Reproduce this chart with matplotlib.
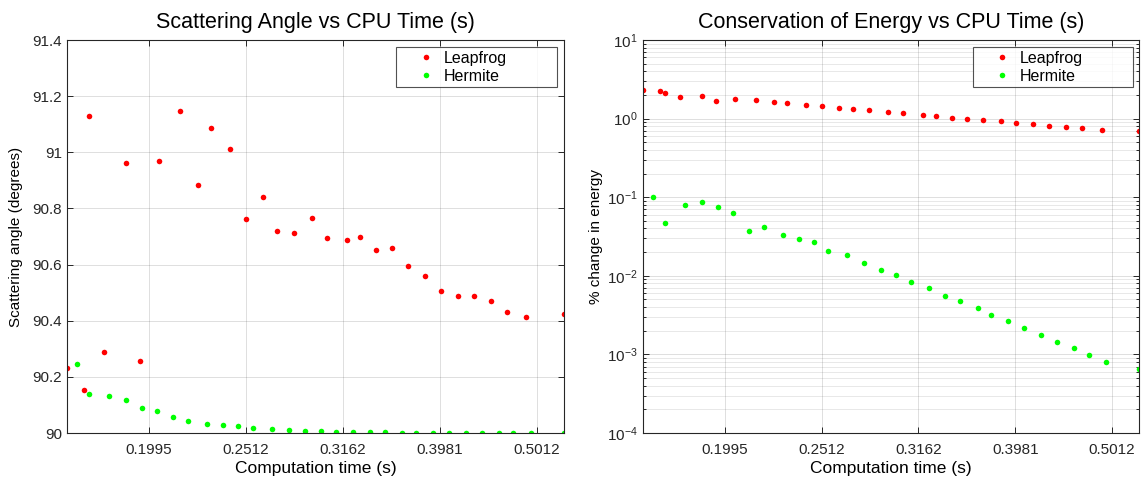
import numpy as np
import matplotlib
matplotlib.use("Agg")
from matplotlib import pyplot as plt
from matplotlib.ticker import FixedLocator, NullLocator, FuncFormatter

plt.rcParams['font.family'] = ['Liberation Sans', 'DejaVu Sans']

# CPU times (s)
leap_time = [0.16410, 0.17113, 0.17317, 0.17932, 0.18893, 0.19545, 0.20419, 0.21494,
             0.22400, 0.23120, 0.24205, 0.25142, 0.26177, 0.27062, 0.28137, 0.29408,
             0.30453, 0.31932, 0.32958, 0.34235, 0.35510, 0.36912, 0.38461, 0.39924,
             0.41541, 0.43183, 0.44931, 0.46706, 0.48896, 0.53484]
herm_time = [0.16830, 0.17292, 0.18159, 0.18893, 0.19624, 0.20322, 0.21110, 0.21876,
             0.22902, 0.23806, 0.24668, 0.25527, 0.26705, 0.27806, 0.28903, 0.30001,
             0.31086, 0.32391, 0.33702, 0.34925, 0.36415, 0.37594, 0.39143, 0.40689,
             0.42370, 0.43981, 0.45793, 0.47409, 0.49410, 0.53484]

# scattering angle (degrees)
leap_angle = [90.232, 90.153, 91.129, 90.287, 90.963, 90.256, 90.970, 91.148, 90.883,
              91.085, 91.013, 90.762, 90.842, 90.720, 90.713, 90.766, 90.693, 90.686,
              90.698, 90.652, 90.659, 90.594, 90.559, 90.505, 90.488, 90.489, 90.471,
              90.431, 90.412, 90.424]
herm_angle = [90.247, 90.139, 90.131, 90.118, 90.090, 90.080, 90.056, 90.044, 90.033,
              90.027, 90.026, 90.017, 90.014, 90.011, 90.008, 90.006, 90.005, 90.004,
              90.003, 90.002, 90.0015, 90.001, 90.0008, 90.0006, 90.0005, 90.0004,
              90.0003, 90.0002, 90.0002, 90.0001]

# % change in energy
leap_energy = [2.33, 2.22, 2.14, 1.88, 1.94, 1.68, 1.77, 1.71, 1.63, 1.56, 1.49, 1.43,
               1.37, 1.31, 1.27, 1.21, 1.17, 1.12, 1.08, 1.03, 1.00, 0.96, 0.92, 0.88,
               0.85, 0.81, 0.78, 0.75, 0.72, 0.69]
herm_energy = [0.102, 0.0474, 0.0796, 0.0869, 0.0757, 0.0629, 0.0368, 0.0418, 0.0330,
               0.0297, 0.0267, 0.0205, 0.0182, 0.0147, 0.0120, 0.0101, 0.00834, 0.00693,
               0.00558, 0.00473, 0.00385, 0.00320, 0.00264, 0.00215, 0.00178, 0.00145,
               0.00121, 0.00097, 0.00080, 0.00065]

x_ticks = [10 ** -0.7, 10 ** -0.6, 10 ** -0.5, 10 ** -0.4, 10 ** -0.3]
x_ticklabels = ['0.1995', '0.2512', '0.3162', '0.3981', '0.5012']

axcol = '#262626'
fig = plt.figure(figsize=(11.43, 4.78), dpi=100)
ax1 = fig.add_axes([0.0584, 0.0941, 0.4351, 0.8222])
ax2 = fig.add_axes([0.5623, 0.0941, 0.4345, 0.8222])


def style(ax, legx):
    ax.set_xscale('log')
    ax.set_xlim(min(leap_time), max(leap_time))
    ax.xaxis.set_major_locator(FixedLocator(x_ticks))
    ax.xaxis.set_minor_locator(NullLocator())
    ax.set_xticklabels(x_ticklabels)
    ax.tick_params(which='both', direction='in', top=True, right=True,
                   colors=axcol, labelsize=11, length=4, width=0.7)
    ax.tick_params(which='minor', length=2.5)
    ax.tick_params(axis='x', pad=7)
    for s in ax.spines.values():
        s.set_color(axcol)
        s.set_linewidth(0.8)
    ax.set_xlabel('Computation time (s)', fontsize=12.5, color='black', labelpad=3)
    # MATLAB-like legend box: wide with the marker inset
    leg = ax.legend(loc='upper left', bbox_to_anchor=(legx, 0.9814, 0.3228, 0),
                    mode='expand', fontsize=11.5, frameon=True, fancybox=False,
                    edgecolor=axcol, borderpad=0.2, handletextpad=-0.55,
                    borderaxespad=0, labelspacing=0.2, handlelength=3.3,
                    numpoints=1)
    leg.get_frame().set_linewidth(0.8)


ax1.plot(leap_time, leap_angle, 'o', color=(1, 0, 0), markersize=4, mec='none', label='Leapfrog')
ax1.plot(herm_time, herm_angle, 'o', color=(0, 1, 0), markersize=4, mec='none', label='Hermite')
ax1.set_ylim(90, 91.4)
ax1.set_yticks(np.arange(90, 91.41, 0.2))
ax1.yaxis.set_major_formatter(FuncFormatter(lambda v, p: '%g' % round(v, 1)))
ax1.grid(True, which='major', color=axcol, alpha=0.15, linewidth=0.7)
ax1.set_title('Scattering Angle vs CPU Time (s)', fontsize=15.5, pad=9)
ax1.set_ylabel('Scattering angle (degrees)', fontsize=11)
ax1.yaxis.set_label_coords(-0.088, 0.5)
style(ax1, 0.6628)

ax2.plot(leap_time, leap_energy, 'o', color=(1, 0, 0), markersize=4, mec='none', label='Leapfrog')
ax2.plot(herm_time, herm_energy, 'o', color=(0, 1, 0), markersize=4, mec='none', label='Hermite')
ax2.set_yscale('log')
ax2.set_ylim(1e-4, 10)
ax2.grid(True, which='major', color=axcol, alpha=0.15, linewidth=0.7)
ax2.grid(True, which='minor', axis='y', color=axcol, alpha=0.12, linewidth=0.6)
ax2.set_title('Conservation of Energy vs CPU Time (s)', fontsize=15.5, pad=9)
ax2.set_ylabel('% change in energy', fontsize=11)
ax2.yaxis.set_label_coords(-0.079, 0.5)
style(ax2, 0.6645)

fig.savefig('out.png', dpi=100)
